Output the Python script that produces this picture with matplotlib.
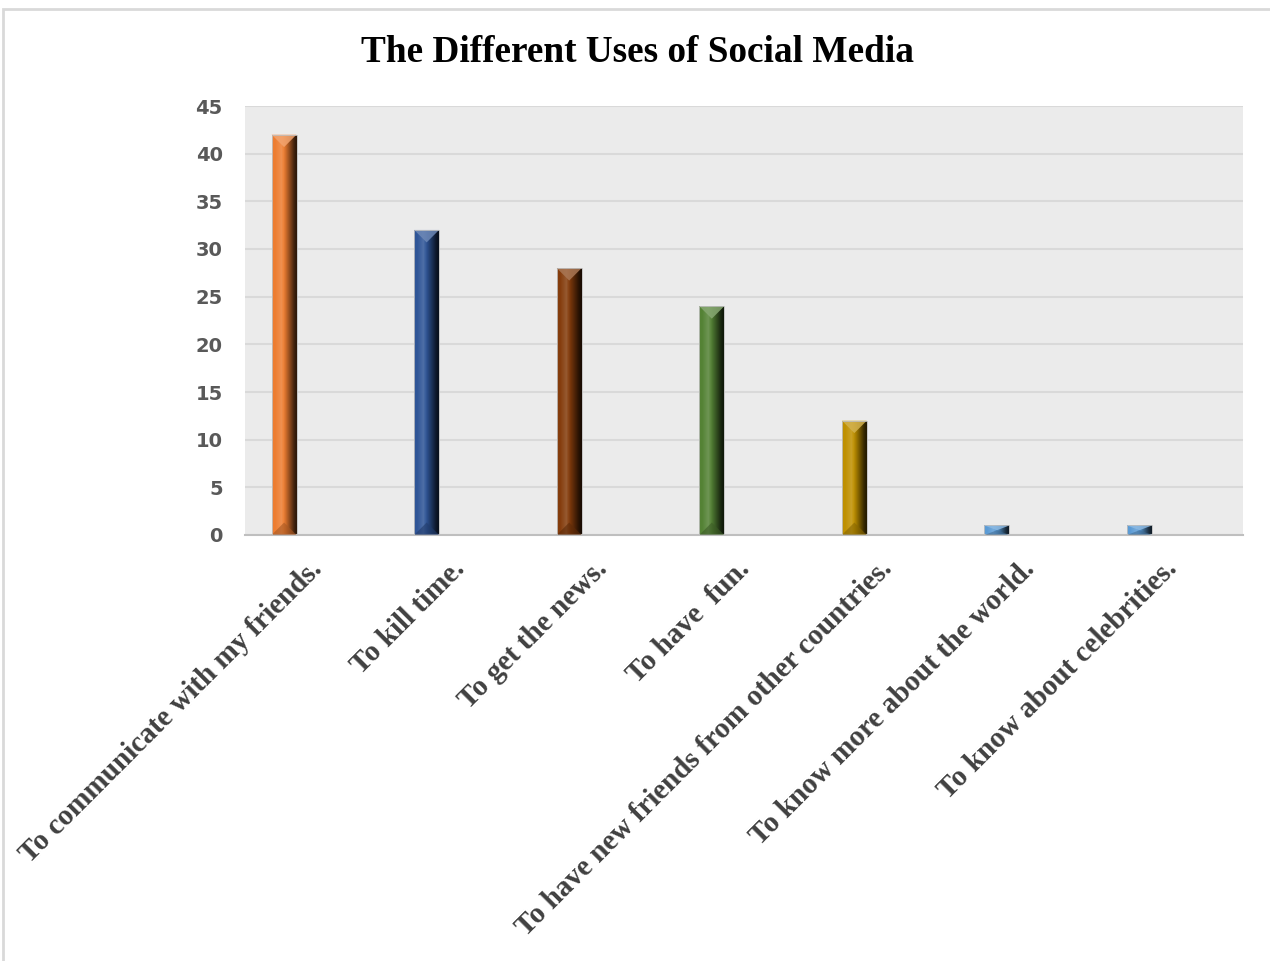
import matplotlib
matplotlib.use("Agg")
import matplotlib.pyplot as plt
import matplotlib.transforms as mtransforms
import numpy as np
from matplotlib.patches import Polygon, Rectangle
from matplotlib.colors import to_rgb

title = "The Different Uses of Social Media"
categories = [
    "To communicate with my friends.",
    "To kill time.",
    "To get the news.",
    "To have  fun.",
    "To have new friends from other countries.",
    "To know more about the world.",
    "To know about celebrities.",
]
values = [42, 32, 28, 24, 12, 1, 1]
colors = ["#ED7D31", "#2F5597", "#843C0C", "#548235", "#BF9000", "#5B9BD5", "#5B9BD5"]
yticks = [0, 5, 10, 15, 20, 25, 30, 35, 40, 45]

fig = plt.figure(figsize=(12.7, 9.61), dpi=100)
ax = fig.add_axes([245 / 1270, 1 - 535 / 961, 998 / 1270, 429 / 961])
ax.set_facecolor("#ebebeb")

x = np.arange(len(categories))
bar_w = 0.175
offset = -0.226
bars = ax.bar(x + offset, values, width=bar_w, zorder=2, edgecolor="none")

ax.set_xlim(-0.5, len(categories) - 0.5)
ax.set_ylim(0, 45)

# pixel scales
ax_w_px = 998
ax_h_px = 429
pxx = ax_w_px / len(categories)
pxy = ax_h_px / 45.0


def shade(rgb, f):
    rgb = np.array(rgb)
    if f >= 1:
        return np.clip(rgb + (1 - rgb) * (f - 1), 0, 1)
    return np.clip(rgb * f, 0, 1)


profile = np.array([1.0, 1.0, 1.05, 1.1, 1.15, 1.05, 0.9, 0.75, 0.6, 0.45, 0.3, 0.2])
for p, c in zip(bars, colors):
    base = to_rgb(c)
    x0, y0 = p.get_x(), p.get_y()
    w, h = p.get_width(), p.get_height()
    p.set_facecolor("none")
    grad = np.array([[shade(base, f) for f in profile]])
    im = ax.imshow(grad, extent=[x0, x0 + w, y0, y0 + h], aspect="auto",
                   zorder=2, interpolation="bilinear")
    im.set_clip_path(p)
    d = min((w * pxx / 2) / pxy, h / 2)
    top = y0 + h
    ax.add_patch(Polygon([(x0, top), (x0 + w, top), (x0 + w / 2, top - d)],
                         closed=True, facecolor=shade(base, 1.3), edgecolor="none",
                         alpha=0.85, zorder=3))
    ax.add_patch(Polygon([(x0, y0), (x0 + w, y0), (x0 + w / 2, y0 + d)],
                         closed=True, facecolor=shade(base, 0.7), edgecolor="none",
                         alpha=0.6, zorder=3))
    ax.add_patch(Rectangle((x0, y0), w, h, facecolor="none", edgecolor="#bfbfbf",
                           linewidth=0.6, zorder=4))

ax.set_xlim(-0.5, len(categories) - 0.5)
ax.set_ylim(0, 45)
ax.set_aspect("auto")

ax.set_yticks(yticks)
ax.yaxis.grid(True, color="#d9d9d9", linewidth=1.5, zorder=1)
ax.set_axisbelow(True)
for s in ["top", "right", "left"]:
    ax.spines[s].set_visible(False)
ax.spines["bottom"].set_color("#bfbfbf")
ax.spines["bottom"].set_linewidth(1.5)
ax.tick_params(axis="y", length=0, pad=16, labelsize=14, labelcolor="#595959")
for t in ax.get_yticklabels():
    t.set_fontweight("bold")

ax.set_xticks(x)
ax.set_xticklabels(categories, rotation=45, ha="right", rotation_mode="anchor",
                   fontfamily="Liberation Serif", fontweight="bold", fontsize=21,
                   color="#404040")
ax.tick_params(axis="x", length=0, pad=16)
shift = mtransforms.ScaledTranslation(-8 / 100, 2 / 100, fig.dpi_scale_trans)
for lbl in ax.get_xticklabels():
    lbl.set_transform(lbl.get_transform() + shift)

fig.text(638 / 1270, 1 - 53 / 961, title, ha="center", va="center",
         fontfamily="Liberation Serif", fontweight="bold", fontsize=26.8, color="black")

fig.patches.append(Rectangle((3 / 1270, -0.05), 1.2, 1.05 - 9 / 961 + 0.0,
                             transform=fig.transFigure, facecolor="none",
                             edgecolor="#d9d9d9", linewidth=2, clip_on=False))

fig.savefig("out.png", dpi=100)
